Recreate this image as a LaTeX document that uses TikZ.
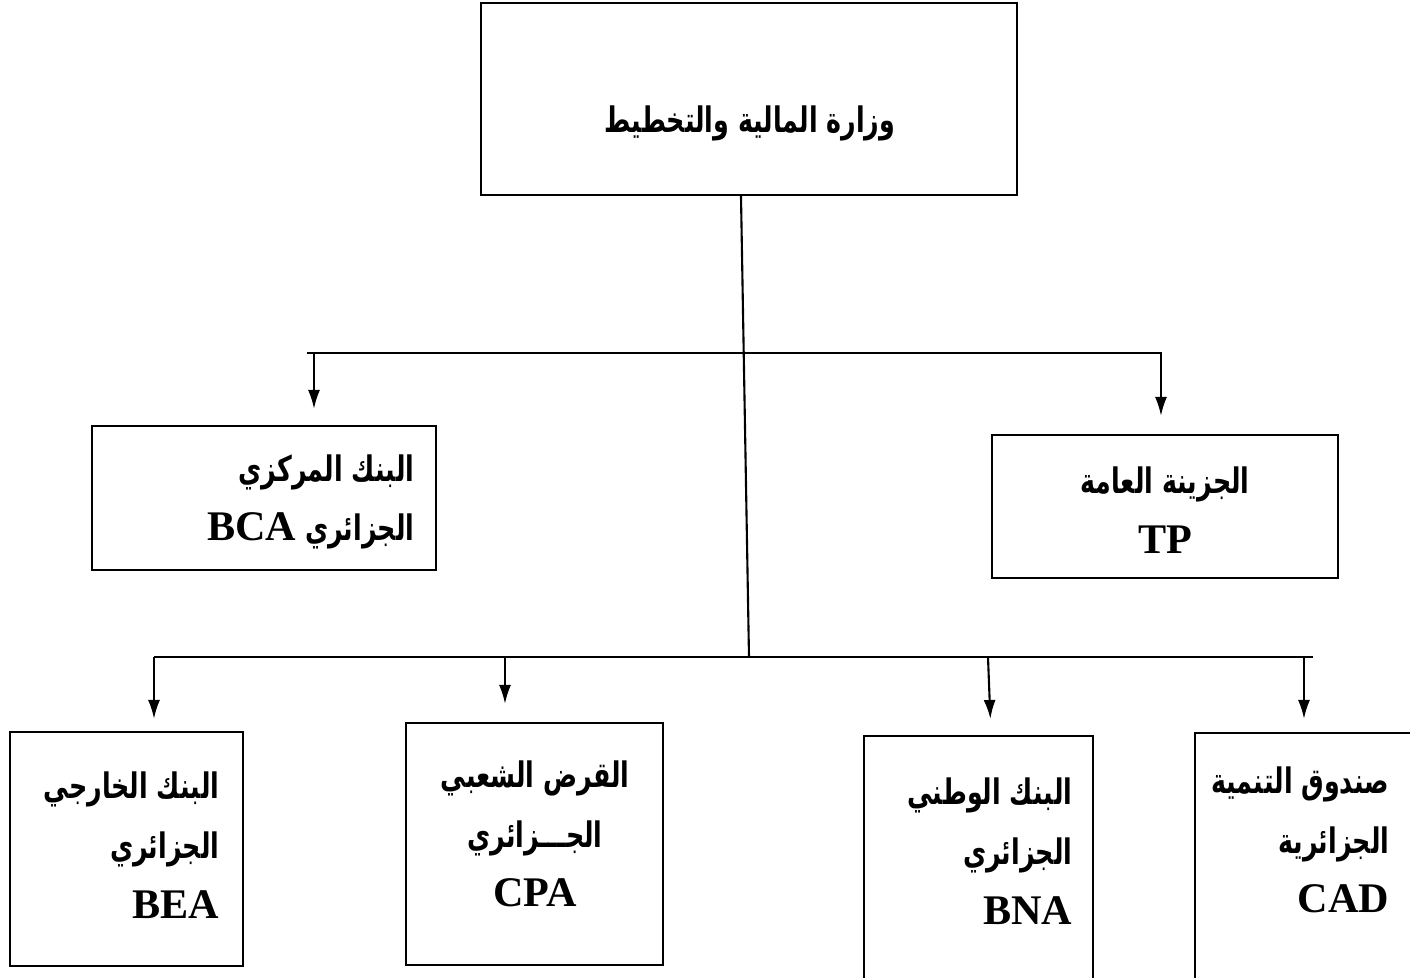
\documentclass[tikz,border=0pt]{standalone}
\usepackage{fontspec}
\setmainfont{Liberation Serif}
\newfontfamily\arabicfont[Script=Arabic,FakeStretch=0.72]{DejaVu Sans}
\TeXXeTstate=1
\usetikzlibrary{arrows.meta}

\newcommand{\artxt}[1]{{\arabicfont\bfseries\fontsize{10}{17}\selectfont\beginR #1\endR}}
\newcommand{\latn}[1]{{\rmfamily\bfseries\fontsize{12}{17}\selectfont\beginL #1\endL}}

\begin{document}
\begin{tikzpicture}[box/.style={draw,line width=0.6pt,inner sep=0pt},
  txt/.style={inner sep=0pt,font=\fontsize{12}{17}\selectfont},
  arr/.style={line width=0.6pt,-{Latex[length=1.9mm,width=1.2mm]}}]
\useasboundingbox (0,0) rectangle (14.10,-9.78);

\node[box,minimum width=5.36cm,minimum height=1.92cm] (mof) at (7.49,-0.99) {};
\node[txt] (moft) at (7.50,-1.23) {\artxt{وزارة المالية والتخطيط}};

\node[box,minimum width=3.44cm,minimum height=1.44cm] (bca) at (2.64,-4.98) {};
\node[txt,align=right,anchor=east] (bcat) at (4.15,-5.02) {\artxt{البنك المركزي}\\ \artxt{الجزائري \latn{BCA}}};

\node[box,minimum width=3.46cm,minimum height=1.43cm] (tp) at (11.65,-5.065) {};
\node[txt,align=center] (tpt) at (11.65,-5.10) {\artxt{الجزينة العامة}\\ \latn{TP}};

\node[box,minimum width=2.33cm,minimum height=2.34cm] (bea) at (1.265,-8.49) {};
\node[txt,align=right,anchor=east] (beat) at (2.20,-8.45) {\artxt{البنك الخارجي}\\ \artxt{الجزائري}\\ \latn{BEA}};

\node[box,minimum width=2.57cm,minimum height=2.42cm] (cpa) at (5.345,-8.44) {};
\node[txt,align=center] (cpat) at (5.35,-8.34) {\artxt{القرض الشعبي}\\ \artxt{الجـــزائري}\\ \latn{CPA}};

\node[box,minimum width=2.29cm,minimum height=2.46cm] (bna) at (9.785,-8.59) {};
\node[txt,align=right,anchor=east] (bnat) at (10.73,-8.51) {\artxt{البنك الوطني}\\ \artxt{الجزائري}\\ \latn{BNA}};

\node[box,minimum width=2.60cm,minimum height=2.50cm] (cad) at (13.25,-8.58) {};
\node[txt,align=right,anchor=east] (cadt) at (13.90,-8.40) {\artxt{صندوق التنمية}\\ \artxt{الجزائرية}\\ \latn{CAD}};

\coordinate (u1) at (3.07,-3.53);
\coordinate (u2) at (11.62,-3.53);
\coordinate (ua) at (3.14,-3.53);
\coordinate (ub) at (11.61,-3.53);
\coordinate (l0) at (7.49,-6.57);
\coordinate (l1) at (1.54,-6.57);
\coordinate (l2) at (13.13,-6.57);
\coordinate (lb) at (5.05,-6.57);
\coordinate (lc) at (9.88,-6.57);
\coordinate (ld) at (13.04,-6.57);

\draw[line width=0.6pt] ([xshift=-0.08cm]mof.south) -- (l0);
\draw[line width=0.6pt] (u1) -- (u2);
\draw[line width=0.6pt] (l1) -- (l2);

\draw[arr,shorten >=0.16cm] (ua) -- (ua |- bca.north);
\draw[arr,shorten >=0.18cm] (ub) -- (ub |- tp.north);
\draw[arr,shorten >=0.12cm] (l1) -- (l1 |- bea.north);
\draw[arr,shorten >=0.18cm] (lb) -- (lb |- cpa.north);
\draw[arr,shorten >=0.16cm] (lc) -- ([xshift=0.03cm]lc |- bna.north);
\draw[arr,shorten >=0.13cm] (ld) -- (ld |- cad.north);
\end{tikzpicture}
\end{document}
